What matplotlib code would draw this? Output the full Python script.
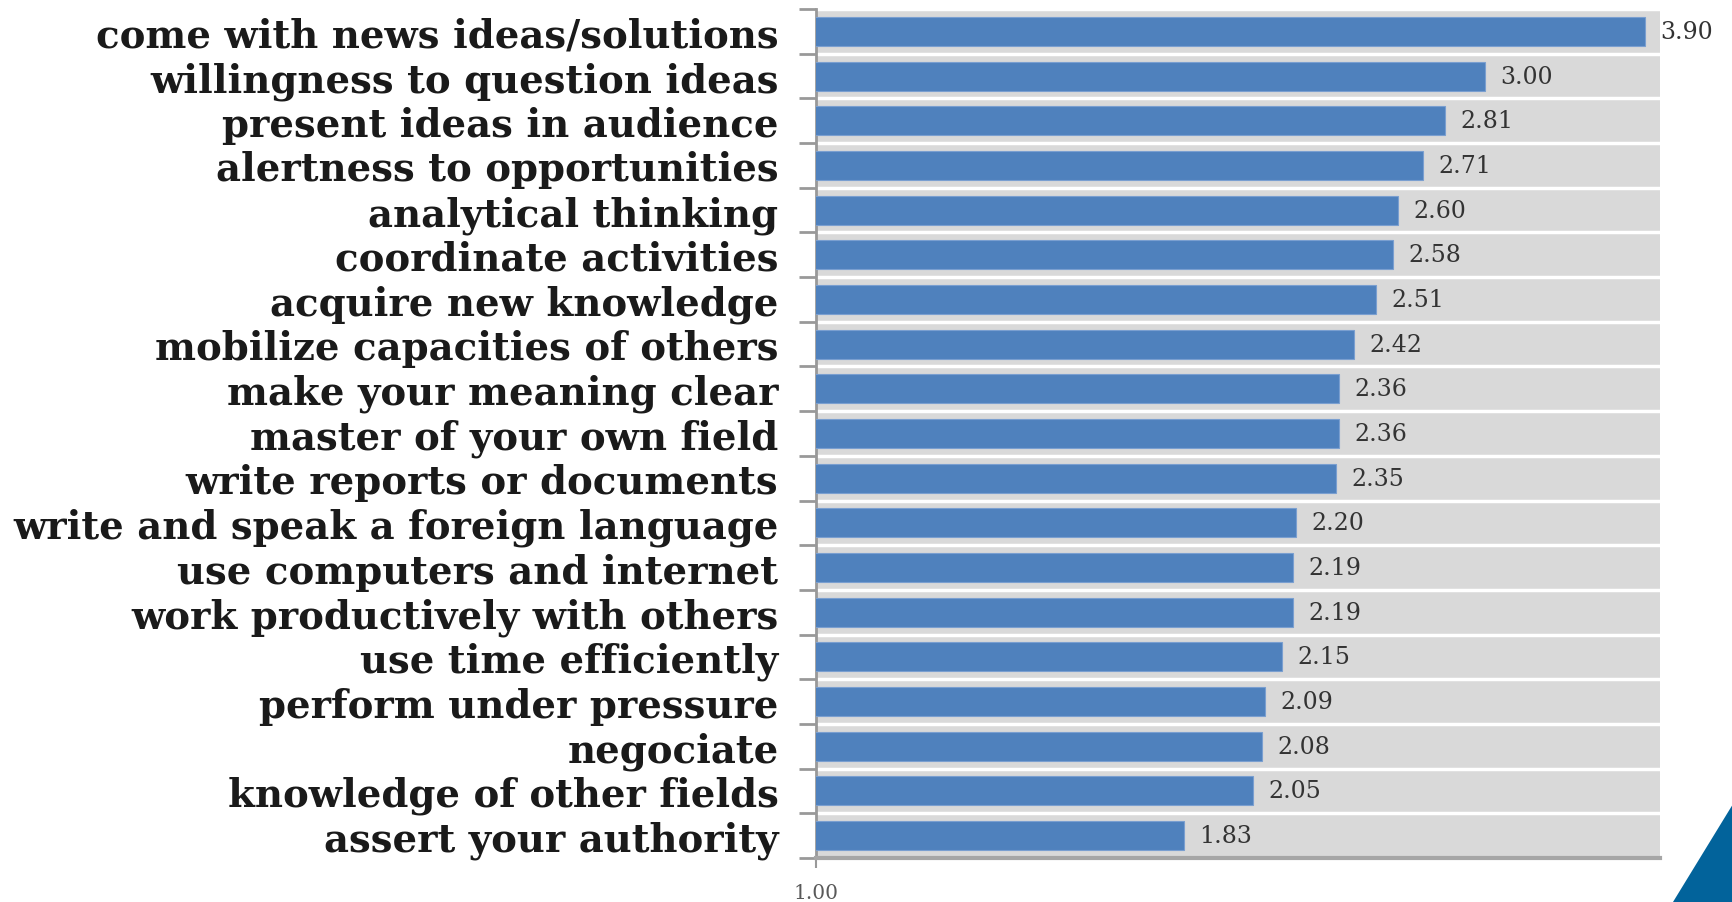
import matplotlib.pyplot as plt
from matplotlib.patches import Polygon
import numpy as np

skills = ['come with news ideas/solutions', 'willingness to question ideas',
          'present ideas in audience', 'alertness to opportunities',
          'analytical thinking', 'coordinate activities', 'acquire new knowledge',
          'mobilize capacities of others', 'make your meaning clear',
          'master of your own field', 'write reports or documents',
          'write and speak a foreign language', 'use computers and internet',
          'work productively with others', 'use time efficiently',
          'perform under pressure', 'negociate', 'knowledge of other fields',
          'assert your authority']
scores = [3.90, 3.00, 2.81, 2.71, 2.60, 2.58, 2.51, 2.42, 2.36, 2.36, 2.35,
          2.20, 2.19, 2.19, 2.15, 2.09, 2.08, 2.05, 1.83]

fig = plt.figure(figsize=(17.33, 9.03), dpi=100)
ax = fig.add_axes([816/1733, 1-859/903, (1660-816)/1733, (859-10)/903])
ax.set_facecolor('#d9d9d9')

y = np.arange(len(skills))
ax.barh(y, scores, height=0.65, color='#4f81bd', edgecolor='#7a9fd0', linewidth=0.8, zorder=3)
ax.set_xscale('log')
ax.set_xlim(1, 4)
ax.set_ylim(len(skills) - 0.5, -0.5)

for yi, v in zip(y, scores):
    ax.annotate(f'{v:.2f}', (v, yi), xytext=(11, 0), textcoords='offset points',
                va='center', ha='left', fontsize=17, family='DejaVu Serif',
                color='#333333', clip_on=False)

# row separators
ax.set_yticks(y)
ax.set_yticklabels(skills, fontsize=27.8, fontweight='bold', family='DejaVu Serif', color='#1a1a1a')
ax.set_yticks(np.arange(len(skills) + 1) - 0.5, minor=True)
ax.tick_params(axis='y', which='major', length=0, pad=27)
ax.tick_params(axis='y', which='minor', length=12, width=2, color='#999999')
ax.grid(axis='y', which='minor', color='white', linewidth=2.5, zorder=1)
ax.set_axisbelow(True)

ax.xaxis.set_major_locator(plt.FixedLocator([1]))
ax.xaxis.set_minor_locator(plt.NullLocator())
ax.xaxis.set_major_formatter(plt.FuncFormatter(lambda v, p: f'{v:.2f}'))
ax.tick_params(axis='x', length=7, width=1.5, color='#999999', labelsize=14.5,
               labelcolor='#595959', pad=11)
for lbl in ax.get_xticklabels():
    lbl.set_family('DejaVu Serif')

for s in ['top', 'right']:
    ax.spines[s].set_visible(False)
ax.spines['left'].set_color('#999999')
ax.spines['left'].set_linewidth(2)
ax.spines['bottom'].set_color('#a6a6a6')
ax.spines['bottom'].set_linewidth(3)

# corner decoration
fig.patches.append(Polygon([[1733/1733, 1-805/903], [1673/1733, 0], [1, 0]],
                           closed=True, transform=fig.transFigure,
                           facecolor='#02639b', edgecolor='none'))

fig.savefig('out.png', dpi=100)
